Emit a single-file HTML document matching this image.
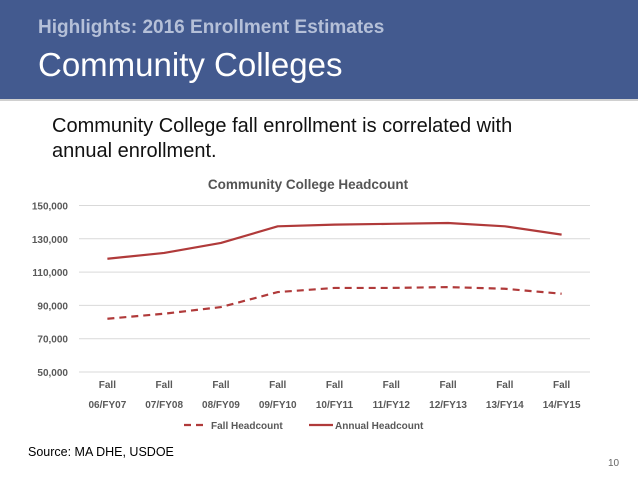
<!DOCTYPE html>
<html><head><meta charset="utf-8"><style>
body{margin:0;width:638px;height:479px;background:#fff;font-family:"Liberation Sans",sans-serif;position:relative;overflow:hidden}
.hdr{position:absolute;left:0;top:0;width:638px;height:99px;background:#435a8f;border-bottom:2px solid #d0d0d0}
.sub{position:absolute;left:38px;top:17px;font-size:19px;font-weight:bold;color:#b5c0d8}
.ttl{position:absolute;left:38px;top:46px;font-size:33px;color:#fff}
.body{position:absolute;left:52px;top:114px;font-size:20px;line-height:25px;color:#111}
.src{position:absolute;left:28px;top:445px;font-size:12.5px;color:#000}
.pg{position:absolute;left:608px;top:458px;font-size:10px;color:#666}
</style></head><body>
<div class="hdr">
<div class="sub">Highlights: 2016 Enrollment Estimates</div>
<div class="ttl">Community Colleges</div>
</div>
<div class="body">Community College fall enrollment is correlated with<br>annual enrollment.</div>
<svg id="chart" width="638" height="479" style="position:absolute;left:0;top:0"></svg>
<div class="src">Source: MA DHE, USDOE</div>
<div class="pg">10</div>
<script>
const categories=[["Fall","06/FY07"],["Fall","07/FY08"],["Fall","08/FY09"],["Fall","09/FY10"],["Fall","10/FY11"],["Fall","11/FY12"],["Fall","12/FY13"],["Fall","13/FY14"],["Fall","14/FY15"]];
const annualHeadcount=[118000,121500,127500,137500,138500,139000,139500,137500,132500];
const fallHeadcount=[82000,85000,89000,98000,100500,100500,101000,100000,97000];
const yTicks=[50000,70000,90000,110000,130000,150000];
const ns="http://www.w3.org/2000/svg";
const svg=document.getElementById('chart');
const L=79,R=590,yTop=205.5,yBot=372,yMin=50000,yMax=150000;
const band=(R-L)/categories.length;
function x(i){return L+band*(i+0.5);}
function y(v){return yBot-(v-yMin)/(yMax-yMin)*(yBot-yTop);}
function mk(t,a,txt){const e=document.createElementNS(ns,t);for(const k in a)e.setAttribute(k,a[k]);if(txt!=null)e.textContent=txt;svg.appendChild(e);return e;}
let e=mk('text',{x:308,y:189,'text-anchor':'middle','font-size':13.5,'font-weight':'bold',fill:'#555'},'Community College Headcount');


yTicks.forEach(v=>{
 let g=mk('line',{x1:L,x2:R,y1:y(v),y2:y(v),stroke:'#d9d9d9','stroke-width':1});
 
 
 let t=mk('text',{x:68,y:y(v)+4,'text-anchor':'end','font-size':10,'font-weight':'bold',fill:'#595959'},v.toLocaleString('en-US'));
 
 
});
categories.forEach((c,i)=>{
 let t=mk('text',{x:x(i),y:388,'text-anchor':'middle','font-size':10,'font-weight':'bold',fill:'#595959'},c[0]);
 
 
 let t2=mk('text',{x:x(i),y:408,'text-anchor':'middle','font-size':10,'font-weight':'bold',fill:'#595959'},c[1]);
 
 
});
function pts(arr){return arr.map((v,i)=>x(i)+','+y(v)).join(' ');}
let a=mk('polyline',{points:pts(annualHeadcount),fill:'none',stroke:'#b03a3a','stroke-width':2.2,'stroke-linejoin':'round'});


let f=mk('polyline',{points:pts(fallHeadcount),fill:'none',stroke:'#b03a3a','stroke-width':2.2,'stroke-dasharray':'7,5'});


let l1=mk('line',{x1:184,x2:208,y1:425,y2:425,stroke:'#b03a3a','stroke-width':2.2,'stroke-dasharray':'7,5'});


let lt1=mk('text',{x:211,y:429,'font-size':10,'font-weight':'bold',fill:'#595959'},'Fall Headcount');


let l2=mk('line',{x1:309,x2:333,y1:425,y2:425,stroke:'#b03a3a','stroke-width':2.2});


let lt2=mk('text',{x:335,y:429,'font-size':10,'font-weight':'bold',fill:'#595959'},'Annual Headcount');


</script>
</body></html>
